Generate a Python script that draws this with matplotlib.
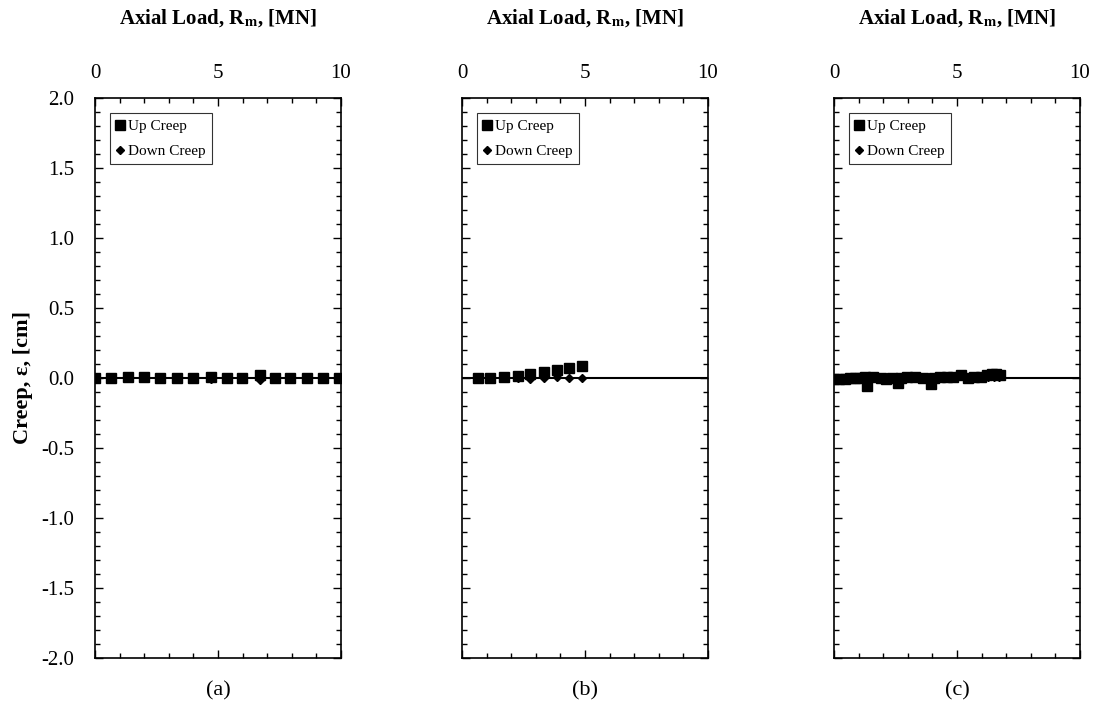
import matplotlib
matplotlib.use("Agg")
import matplotlib.pyplot as plt
from matplotlib.ticker import MultipleLocator, FormatStrFormatter

plt.rcParams['font.family'] = ['Liberation Serif', 'DejaVu Serif']
plt.rcParams['axes.unicode_minus'] = False
plt.rcParams['mathtext.fontset'] = 'stix'

# Panel (a)
load_a = [0.0, 0.64, 1.33, 1.99, 2.64, 3.32, 3.97, 4.70, 5.35, 5.99, 6.71, 7.33, 7.94, 8.63, 9.28, 9.93]
up_a = [0.0, 0.0, 0.005, 0.005, 0.0, 0.0, 0.0, 0.005, 0.0, 0.0, 0.02, 0.0, 0.0, 0.0, 0.0, 0.0]
down_a = [0.0, 0.0, 0.0, 0.0, -0.005, 0.0, 0.0, -0.01, 0.0, -0.005, -0.015, -0.005, -0.005, -0.01, -0.01, -0.01]

# Panel (b)
load_b = [0.64, 1.15, 1.69, 2.26, 2.77, 3.34, 3.86, 4.36, 4.88]
up_b = [0.0, 0.0, 0.005, 0.014, 0.026, 0.045, 0.055, 0.069, 0.088]
down_b = [0.0, 0.0, 0.0, 0.0, -0.005, 0.0, 0.005, 0.003, 0.0]

# Panel (c)
load_c = [0.0, 0.21, 0.43, 0.64, 0.85, 1.07, 1.28, 1.35, 1.6, 1.92, 2.13, 2.34, 2.6, 2.72, 2.98, 3.3,
          3.62, 3.96, 4.05, 4.31, 4.58, 4.85, 5.17, 5.43, 5.7, 5.96, 6.23, 6.44, 6.6, 6.76]
up_c = [-0.01, -0.005, -0.005, 0.0, 0.0, 0.0, 0.005, -0.057, 0.005, 0.0, -0.005, 0.0, -0.035, 0.0,
        0.005, 0.005, 0.0, -0.045, 0.0, 0.01, 0.01, 0.005, 0.02, 0.0, 0.005, 0.01, 0.02, 0.03, 0.03, 0.025]
load_c_down = [0.0, 0.53, 1.07, 1.6, 2.13, 2.66, 3.2, 3.73, 4.26, 4.79, 5.33, 5.86, 6.28, 6.5, 6.71]
down_c = [-0.005, 0.0, 0.0, 0.0, 0.0, 0.0, 0.0, 0.0, 0.0, 0.0, 0.0, 0.0, 0.005, 0.005, 0.005]

panels = [("(a)", load_a, up_a, load_a, down_a),
          ("(b)", load_b, up_b, load_b, down_b),
          ("(c)", load_c, up_c, load_c_down, down_c)]

W, H = 1114, 712
fig = plt.figure(figsize=(W / 100, H / 100), dpi=100)
lefts = [95, 462, 834]
axw, axh = 246, 560
bottom = H - 658

for i, (lab, xu, yu, xd, yd) in enumerate(panels):
    ax = fig.add_axes([lefts[i] / W, bottom / H, axw / W, axh / H])
    ax.axhline(0, color='black', lw=1.5, zorder=1)
    ax.plot(xd, yd, linestyle='none', marker='D', ms=4, color='black', label='Down Creep', zorder=3)
    ax.plot(xu, yu, linestyle='none', marker='s', ms=7, color='black', label='Up Creep', zorder=2)
    ax.set_xlim(0, 10)
    ax.set_ylim(-2, 2)
    ax.xaxis.set_major_locator(MultipleLocator(5))
    ax.xaxis.set_minor_locator(MultipleLocator(1))
    ax.yaxis.set_major_locator(MultipleLocator(0.5))
    ax.yaxis.set_minor_locator(MultipleLocator(0.1))
    ax.xaxis.tick_top()
    ax.xaxis.set_label_position('top')
    ax.tick_params(which='both', direction='in', top=True, bottom=True, left=True, right=True,
                   labeltop=True, labelbottom=False, labelsize=15, width=1)
    ax.tick_params(which='major', length=6)
    ax.tick_params(which='minor', length=3.5)
    ax.tick_params(axis='x', which='major', pad=11)
    ax.tick_params(axis='y', which='major', pad=15)
    for s in ax.spines.values():
        s.set_linewidth(1.2)
    if i == 0:
        ax.yaxis.set_major_formatter(FormatStrFormatter('%.1f'))
        ax.set_ylabel('Creep, ε, [cm]', fontsize=16, fontweight='bold', labelpad=6)
    else:
        ax.tick_params(axis='y', labelleft=False)
    ax.set_xlabel(r'Axial Load, R$_{\mathbf{m}}$, [MN]', fontsize=15, fontweight='bold', labelpad=29)
    ax.text(0.5, -0.058, lab, transform=ax.transAxes, ha='center', va='center', fontsize=16)
    handles, labels = ax.get_legend_handles_labels()
    leg = ax.legend(handles[::-1], labels[::-1], loc='upper left', bbox_to_anchor=(0.061, 0.973),
                    fontsize=11, frameon=True, fancybox=False, edgecolor='black',
                    handlelength=0.5, handletextpad=0.3, borderpad=0.4, labelspacing=0.75,
                    borderaxespad=0)
    leg.get_frame().set_linewidth(0.8)

fig.savefig('out.png', dpi=100)
